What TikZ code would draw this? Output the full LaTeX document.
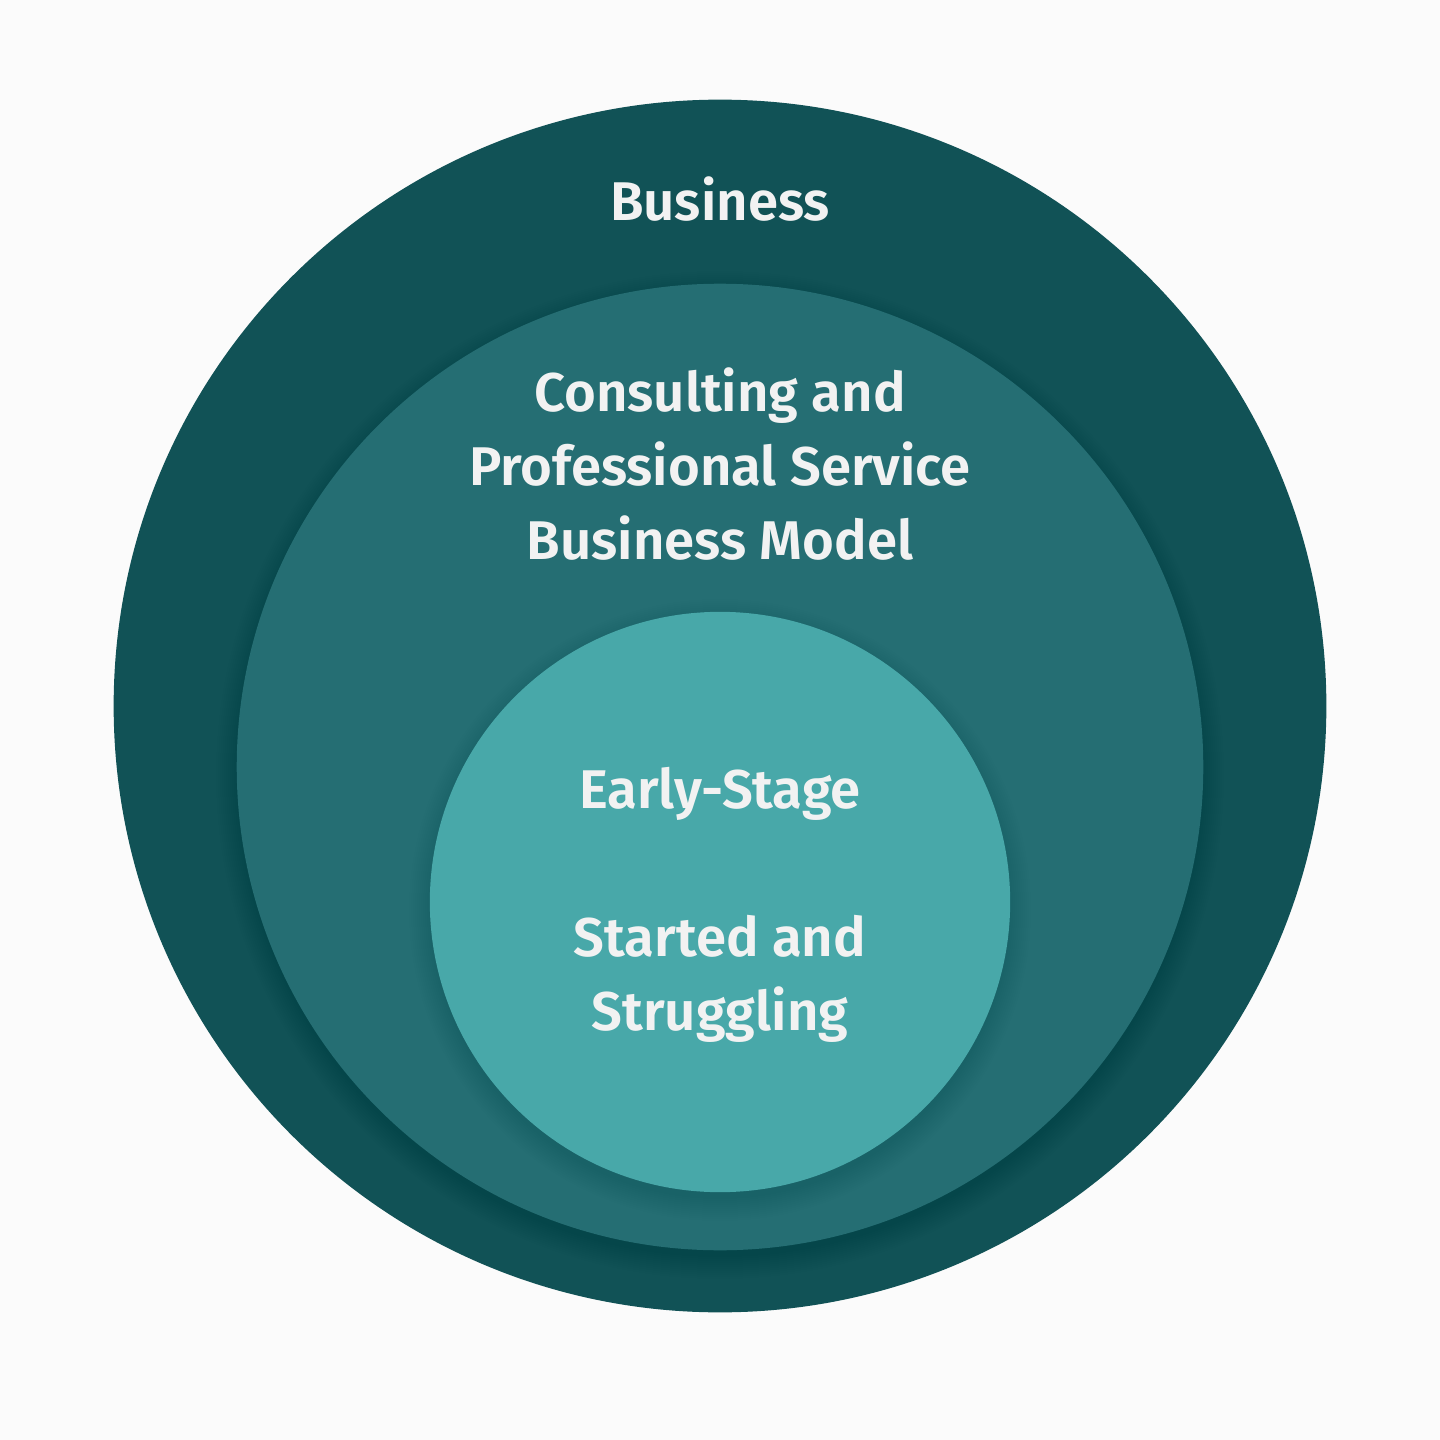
\documentclass[tikz,border=0pt]{standalone}
\usepackage{fontspec}
\setmainfont{Fira Sans}[BoldFont={Fira Sans SemiBold}]
\usetikzlibrary{positioning}
\definecolor{ringouter}{HTML}{115256}
\definecolor{ringmid}{HTML}{256E73}
\definecolor{ringinner}{HTML}{48A8A9}
\definecolor{labeltext}{HTML}{F2F2F2}
\definecolor{backdrop}{HTML}{FBFBFB}

\begin{document}
\begin{tikzpicture}[x=0.01cm, y=-0.01cm, ring/.style={circle, inner sep=0pt}, lbl/.style={text=labeltext, font=\fontsize{15.5}{21}\selectfont\bfseries, align=center, anchor=base}]
      \fill[backdrop] (0,0) rectangle (1440,1440);
      \useasboundingbox (0,0) rectangle (1440,1440);
      \foreach \i in {1,...,40}
        \fill[black, opacity=0.0013] (720,750) circle[radius=595+\i*3.5];
      \node[ring, fill=ringouter, minimum size=12.12cm] (business) at (720,706) {};
      \foreach \i in {1,...,12}
        \fill[black, opacity=0.005] (720,775) circle[radius=480+\i*2];
      \node[ring, fill=ringmid, minimum size=9.66cm] (consulting) at (720,767) {};
      \foreach \i in {1,...,12}
        \fill[black, opacity=0.005] (720,910) circle[radius=287+\i*2];
      \node[ring, fill=ringinner, minimum size=5.8cm] (earlystage) at (720,902) {};
      \node[lbl] (businesstext) at (720,221) {Business};
      \node[lbl] (consultingtext) at (720,559) {Consulting and\\Professional Service\\Business Model};
      \node[lbl] (earlytext) at (720,808) {Early-Stage};
      \node[lbl] (startedtext) at (720,1030) {Started and\\Struggling};
    \end{tikzpicture}
\end{document}
